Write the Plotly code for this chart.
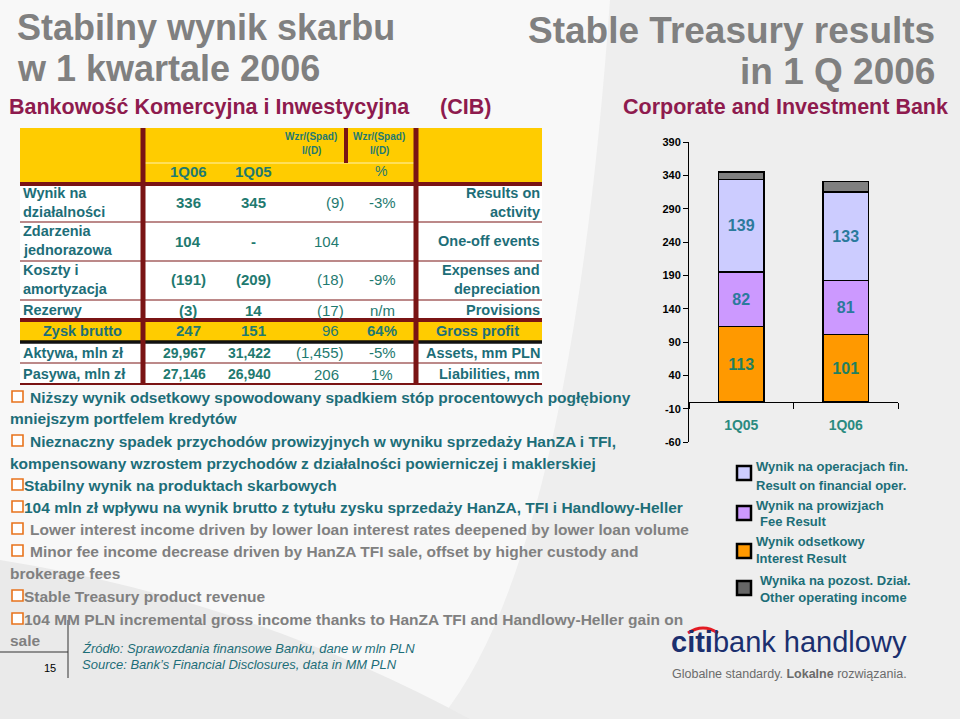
import plotly.graph_objects as go

W, H = 960, 719

# ---------------- chart data ----------------
quarters = ["1Q05", "1Q06"]
interest = [113, 101]
fee = [82, 81]
financial = [139, 133]
other = [11, 16]
y_ticks_pos = [40, 90, 140, 190, 240, 290, 340, 390]
y_ticks_neg = [-60, -10]

legend_pl = ["Wynik na operacjach fin.", "Wynik na prowizjach", "Wynik odsetkowy", "Wynika na pozost. Dział."]
legend_en = ["Result on financial oper.", "Fee Result", "Interest Result", "Other operating income"]

# ---------------- table data ----------------
row_pl = [["Wynik na", "działalności"], ["Zdarzenia", "jednorazowa"], ["Koszty i", "amortyzacja"],
          ["Rezerwy"], ["Zysk brutto"], ["Aktywa, mln zł"], ["Pasywa, mln zł"]]
row_en = [["Results on", "activity"], ["One-off events"], ["Expenses and", "depreciation"],
          ["Provisions"], ["Gross profit"], ["Assets, mm PLN"], ["Liabilities, mm"]]
col_1q06 = ["336", "104", "(191)", "(3)", "247", "29,967", "27,146"]
col_1q05 = ["345", "-", "(209)", "14", "151", "31,422", "26,940"]
col_chg = ["(9)", "104", "(18)", "(17)", "96", "(1,455)", "206"]
col_pct = ["-3%", "", "-9%", "n/m", "64%", "-5%", "1%"]
header_periods = ["1Q06", "1Q05"]
header_chg = ["Wzr/(Spad)", "I/(D)"]

bullets_pl = [
    ["Niższy wynik odsetkowy spowodowany spadkiem stóp procentowych pogłębiony", "mniejszym portfelem kredytów"],
    ["Nieznaczny spadek przychodów prowizyjnych w wyniku sprzedaży HanZA i TFI,",
     "kompensowany wzrostem przychodów z działalności powierniczej i maklerskiej"],
    ["Stabilny wynik na produktach skarbowych"],
    ["104 mln zł wpływu na wynik brutto z tytułu zysku sprzedaży HanZA, TFI i Handlowy-Heller"],
]
bullets_en = [
    ["Lower interest income driven by lower loan interest rates deepened by lower loan volume"],
    ["Minor fee income decrease driven by HanZA TFI sale, offset by higher custody and", "brokerage fees"],
    ["Stable Treasury product revenue"],
    ["104 MM PLN incremental gross income thanks to HanZA TFI and Handlowy-Heller gain on", "sale"],
]

# ---------------- styles ----------------
ARIAL = "Liberation Sans, Arial, sans-serif"
GRAY_T = "#808080"
MAROON = "#8e1b4e"
TEAL = "#1d6e78"
TEAL2 = "#1f7a70"
LINE_M = "#7a1414"
YELLOW = "#ffcc00"
C_FIN, C_FEE, C_INT, C_OTH = "#ccccff", "#cc99ff", "#ff9900", "#808080"

ann = []
shapes = []


def X(x):
    return x / W


def Y(y):
    return 1 - y / H


def txt(x, y, s, size, color, anchor="left", bold=True, italic=False):
    ann.append(dict(x=X(x), y=Y(y), xref="paper", yref="paper", text=s, showarrow=False,
                    xanchor=anchor, yanchor="middle", borderpad=0, borderwidth=0,
                    font=dict(size=size, color=color, family=ARIAL,
                              weight="bold" if bold else "normal",
                              style="italic" if italic else "normal")))


def rect(x0, y0, x1, y1, fill, lc=None, lw=0, layer="below"):
    shapes.append(dict(type="rect", xref="paper", yref="paper", x0=X(x0), x1=X(x1), y0=Y(y1), y1=Y(y0),
                       fillcolor=fill, line=dict(color=lc or fill, width=lw), layer=layer))


def hline(x0, x1, y, color, w, layer="above"):
    shapes.append(dict(type="line", xref="paper", yref="paper", x0=X(x0), x1=X(x1), y0=Y(y), y1=Y(y),
                       line=dict(color=color, width=w), layer=layer))


def vline(x, y0, y1, color, w, layer="above"):
    shapes.append(dict(type="line", xref="paper", yref="paper", x0=X(x), x1=X(x), y0=Y(y0), y1=Y(y1),
                       line=dict(color=color, width=w), layer=layer))


# ---------------- background ----------------
shapes.append(dict(type="path", xref="paper", yref="paper", layer="below",
                   path=f"M {X(610)} {Y(0)} L {X(960)} {Y(0)} L {X(960)} {Y(719)} L {X(440)} {Y(719)} "
                        f"Q {X(570)} {Y(560)} {X(610)} {Y(0)} Z",
                   fillcolor="#eeeeee", line=dict(width=0)))
shapes.append(dict(type="path", xref="paper", yref="paper", layer="below",
                   path=f"M {X(0)} {Y(560)} Q {X(250)} {Y(600)} {X(470)} {Y(719)} L {X(0)} {Y(719)} Z",
                   fillcolor="#eaeaea", line=dict(width=0)))

# ---------------- titles ----------------
txt(17, 28, "Stabilny wynik skarbu", 36, GRAY_T)
txt(17, 68, "w 1 kwartale 2006", 36, GRAY_T)
txt(935, 31, "Stable Treasury results", 37, GRAY_T, anchor="right")
txt(935, 71, "in 1 Q 2006", 37, GRAY_T, anchor="right")
txt(9, 107, "Bankowość Komercyjna i Inwestycyjna", 21.5, MAROON)
txt(440, 107, "(CIB)", 21.5, MAROON)
txt(948, 107, "Corporate and Investment Bank", 21.5, MAROON, anchor="right")

# ---------------- table ----------------
TL, TR = 20, 542
rect(TL, 128, TR, 183, YELLOW)
rect(TL, 183, TR, 384, "#ffffff")
rect(TL, 320, TR, 341, YELLOW)
hline(143, 414, 163, "#fff3b0", 1)
vline(346, 128, 163, LINE_M, 4)
hline(TL, TR, 184, LINE_M, 4)
for yy in [222, 261, 300, 363]:
    hline(TL, TR, yy, LINE_M, 1.2)
hline(TL, TR, 320, LINE_M, 4)
hline(TL, TR, 342, "#111111", 3.5)
hline(TL, TR, 384, LINE_M, 2)
vline(143, 128, 385, LINE_M, 5)
vline(416, 128, 385, LINE_M, 5)

txt(311, 136, header_chg[0], 10, TEAL2, anchor="center")
txt(311, 151, header_chg[1], 10, TEAL2, anchor="center")
txt(379, 136, header_chg[0], 10, TEAL2, anchor="center")
txt(379, 151, header_chg[1], 10, TEAL2, anchor="center")
txt(188, 171, header_periods[0], 15, TEAL2, anchor="center")
txt(253, 171, header_periods[1], 15, TEAL2, anchor="center")
txt(381, 171, "%", 14, TEAL2, anchor="center", bold=False)

row_y = [203, 241, 280, 310, 331, 353, 374]
for i, yc in enumerate(row_y):
    pl = row_pl[i]
    en = row_en[i]
    if len(pl) == 2:
        txt(23, yc - 10, pl[0], 14.5, TEAL)
        txt(23, yc + 9, pl[1], 14.5, TEAL)
    elif i == 4:
        txt(82, yc, pl[0], 14.5, TEAL, anchor="center")
    else:
        txt(23, yc, pl[0], 14.5, TEAL)
    if len(en) == 2:
        txt(540, yc - 10, en[0], 14.5, TEAL, anchor="right")
        txt(540, yc + 9, en[1], 14.5, TEAL, anchor="right")
    elif i == 4:
        txt(477, yc, en[0], 14.5, TEAL, anchor="center")
    else:
        txt(540, yc, en[0], 14.5, TEAL, anchor="right")
    small = i >= 5
    txt(184 if small else 188, yc, col_1q06[i], 14 if small else 15, TEAL2, anchor="center")
    txt(249 if small else 253, yc, col_1q05[i], 14 if small else 15, TEAL2, anchor="center")
    v = col_chg[i]
    txt(344 if v.endswith(")") else 339, yc, v, 15, TEAL2, anchor="right", bold=False)
    txt(382, yc, col_pct[i], 15, TEAL2, anchor="center", bold=(i == 4))

# ---------------- bullets ----------------
BY = [397, 418, 441, 463, 485, 507, 529, 551, 573, 596, 619, 640]
k = 0
for group, color in [(bullets_pl, TEAL), (bullets_en, GRAY_T)]:
    for lines in group:
        first = lines[0]
        spaced = not first.startswith(("Stab", "104"))
        y = BY[k]
        rect(12, y - 6, 23, y + 5, "#ffffff", "#e8731c", 1.6, layer="above")
        txt(30 if spaced else 24, y, first, 15.5, color)
        k += 1
        for extra in lines[1:]:
            txt(10, BY[k], extra, 15.5, color)
            k += 1

# ---------------- footer ----------------
vline(68, 620, 678, "#333333", 1)
hline(0, 68, 652, "#333333", 1)
txt(56, 668, "15", 11, "#000000", anchor="right", bold=False)
txt(82, 648, "Źródło: Sprawozdania finansowe Banku, dane w mln PLN", 13, TEAL, bold=False, italic=True)
txt(82, 664, "Source: Bank’s Financial Disclosures, data in MM PLN", 13, TEAL, bold=False, italic=True)

# ---------------- logo ----------------
txt(671, 642, "<b>citi</b>bank handlowy", 29, "#1b2f6e", bold=False)
shapes.append(dict(type="path", xref="paper", yref="paper", layer="above",
                   path=f"M {X(688)} {Y(633)} Q {X(703)} {Y(623)} {X(718)} {Y(633)}",
                   line=dict(color="#e31b23", width=3)))
txt(672, 674, "Globalne standardy. <b>Lokalne</b> rozwiązania.", 12.5, "#6b6b6b", bold=False)

# ---------------- legend ----------------
leg_y = [(466, 485), (505, 521), (541, 558), (580, 597)]
leg_col = [C_FIN, C_FEE, C_INT, "#666666"]
sq_y = [473, 513, 551, 588]
for i in range(4):
    rect(737, sq_y[i] - 7, 751, sq_y[i] + 7, leg_col[i], "#000000", 2.5, layer="above")
    xo = 756 if i < 3 else 760
    txt(xo, leg_y[i][0], legend_pl[i], 13, TEAL)
    txt(xo + (4 if i == 1 else 0), leg_y[i][1], legend_en[i], 13, TEAL)

# ---------------- chart ----------------
fig = go.Figure()
bar_line = dict(color="#000000", width=1.5)
fig.add_bar(x=quarters, y=interest, marker=dict(color=C_INT, line=bar_line), text=interest,
            textposition="inside", insidetextanchor="middle",
            textfont=dict(size=16, color="#1f8060", family=ARIAL, weight="bold"), name="Interest")
fig.add_bar(x=quarters, y=fee, marker=dict(color=C_FEE, line=bar_line), text=fee,
            textposition="inside", insidetextanchor="middle",
            textfont=dict(size=16, color="#2b7a9c", family=ARIAL, weight="bold"), name="Fee")
fig.add_bar(x=quarters, y=financial, marker=dict(color=C_FIN, line=bar_line), text=financial,
            textposition="inside", insidetextanchor="middle",
            textfont=dict(size=16, color="#2b7a9c", family=ARIAL, weight="bold"), name="Financial")
fig.add_bar(x=quarters, y=other, marker=dict(color=C_OTH, line=bar_line), name="Other", textposition="none")

# negative part of the value axis (below the category axis), drawn as a second axis segment
fig.add_scatter(x=[None], y=[None], yaxis="y2", showlegend=False, hoverinfo="skip")

PX_PER_UNIT = 300 / 450
Y0 = 142 + 390 * PX_PER_UNIT  # pixel of value 0

fig.update_layout(
    width=W, height=H, margin=dict(l=0, r=0, t=0, b=0, autoexpand=False),
    paper_bgcolor="#f8f8f8", plot_bgcolor="rgba(0,0,0,0)",
    barmode="stack", bargap=0.56, showlegend=False,
    annotations=ann, shapes=shapes,
    xaxis=dict(domain=[689 / W, 898 / W], anchor="y",
               showline=True, linecolor="#000000", linewidth=1,
               ticks="outside", tickson="boundaries", ticklen=6, tickcolor="#000000",
               ticklabelstandoff=10,
               tickfont=dict(size=14, color="#2a8a80", family=ARIAL, weight="bold"),
               showgrid=False, zeroline=False, fixedrange=True),
    yaxis=dict(domain=[(H - Y0) / H, (H - 142) / H], range=[0, 390], anchor="x",
               tickvals=y_ticks_pos, showline=True, linecolor="#000000", linewidth=1,
               ticks="outside", ticklen=5, tickcolor="#000000",
               tickfont=dict(size=11, color="#000000", family=ARIAL, weight="bold"),
               showgrid=False, zeroline=False),
    yaxis2=dict(domain=[(H - 442) / H, (H - Y0) / H], range=[-60, 0], anchor="x",
                tickvals=y_ticks_neg, ticktext=[str(v) for v in y_ticks_neg],
                showline=True, linecolor="#000000", linewidth=1,
                ticks="outside", ticklen=5, tickcolor="#000000",
                tickfont=dict(size=11, color="#000000", family=ARIAL, weight="bold"),
                showgrid=False, zeroline=False),
)

fig.write_html("out.html", config={"displayModeBar": False},
               post_script="document.body.style.margin='0';document.body.style.overflow='hidden';")
